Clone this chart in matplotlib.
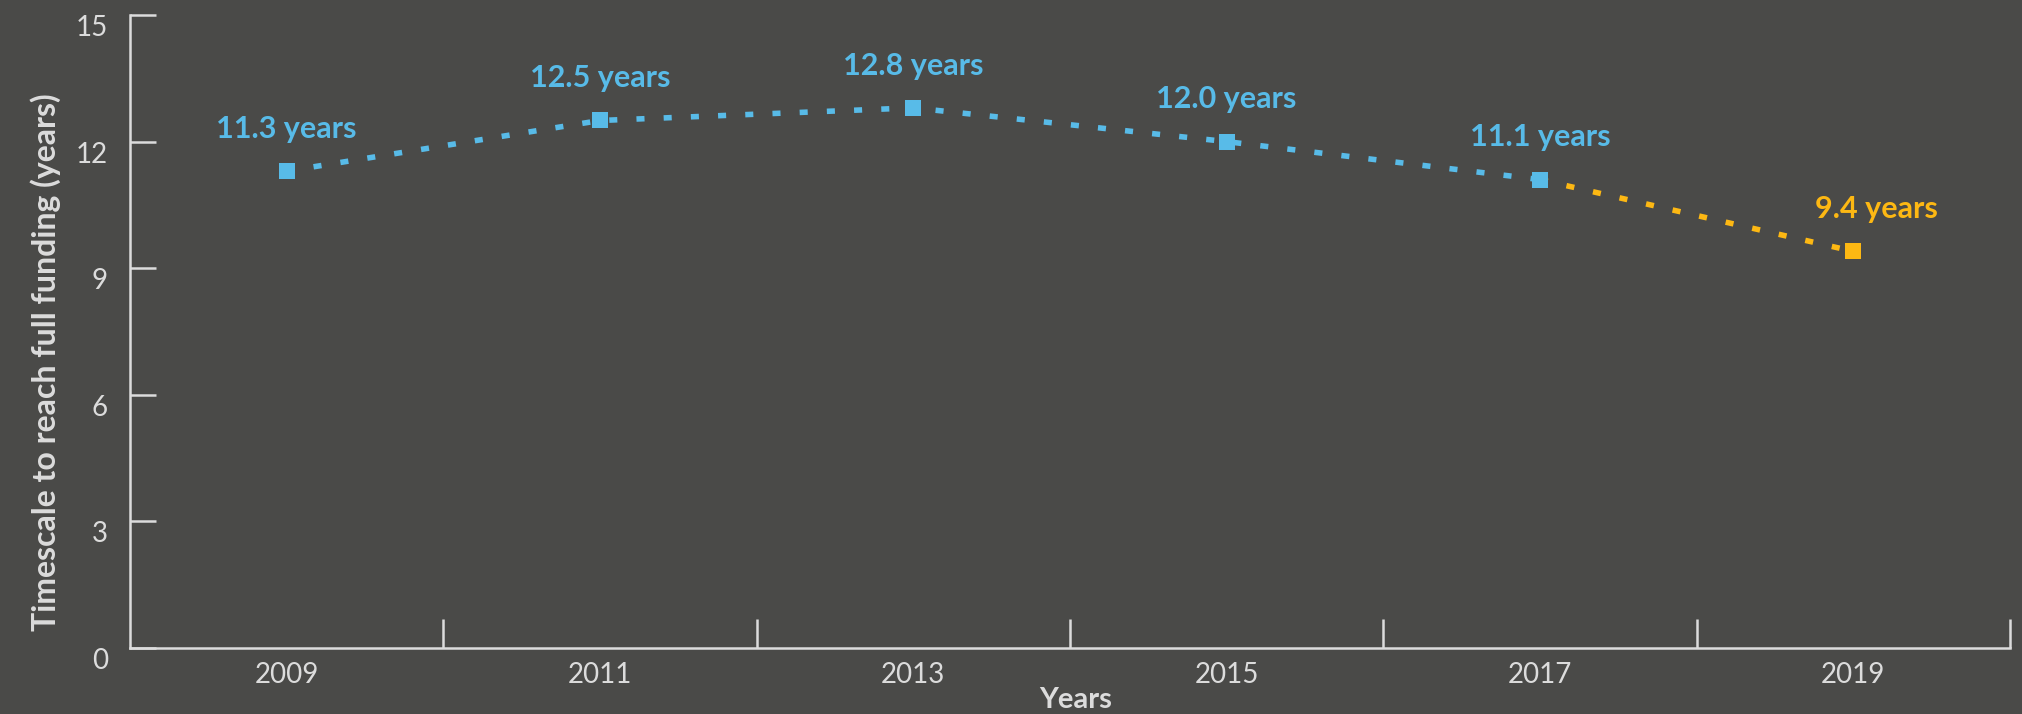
import matplotlib.pyplot as plt

# data
years = [2009, 2011, 2013, 2015, 2017, 2019]
timescale = [11.3, 12.5, 12.8, 12.0, 11.1, 9.4]
point_labels = ["11.3 years", "12.5 years", "12.8 years", "12.0 years", "11.1 years", "9.4 years"]
split = 4  # from 2017 onward the series is drawn in orange
y_ticks = [0, 3, 6, 9, 12, 15]
x_tick_marks = [2010, 2012, 2014, 2016, 2018, 2020]

bg = "#4a4a48"
fg = "#dcdcdc"
blue = "#58bbe8"
orange = "#fdb813"

plt.rcParams['font.family'] = ['Lato', 'DejaVu Sans']

fig = plt.figure(figsize=(20.22, 7.14), dpi=100, facecolor=bg)
ax = fig.add_axes([0.0643, 0.0924, 0.9297, 0.8866], facecolor=bg)

dash = (0, (1.45, 3.45))
ax.plot(years[:split + 1], timescale[:split + 1], color=blue, lw=4,
        linestyle=dash, dash_capstyle='butt', zorder=2)
ax.plot(years[split:], timescale[split:], color=orange, lw=4,
        linestyle=dash, dash_capstyle='butt', zorder=2)
ax.plot(years[:split + 1], timescale[:split + 1], 's', color=blue, ms=11.5, mew=0, zorder=3)
ax.plot(years[split + 1:], timescale[split + 1:], 's', color=orange, ms=11.5, mew=0, zorder=3)

for i, (x, y, txt) in enumerate(zip(years, timescale, point_labels)):
    c = blue if i <= split else orange
    dx = 17 if i == len(years) - 1 else 0
    ax.annotate(txt, (x, y), xytext=(dx, 24), textcoords='offset points',
                ha='center', va='baseline', fontsize=22, fontweight='bold', color=c)

ax.set_xlim(2008, 2020)
ax.set_ylim(0, 15)

ax.set_yticks(y_ticks)
ax.set_yticklabels([str(v) for v in y_ticks])
ax.set_xticks(x_tick_marks)
ax.set_xticklabels([])
ax.set_xticks(years, minor=True)
ax.set_xticklabels([str(v) for v in years], minor=True)

ax.tick_params(axis='y', direction='in', length=19, width=1.8, color=fg,
               labelcolor=fg, labelsize=20, pad=16)
ax.tick_params(axis='x', which='major', direction='in', length=21, width=1.8, color=fg)
ax.tick_params(axis='x', which='minor', length=0, labelcolor=fg, labelsize=20, pad=10)
for lab in ax.get_yticklabels():
    lab.set_va('top')

for s in ['top', 'right']:
    ax.spines[s].set_visible(False)
for s in ['left', 'bottom']:
    ax.spines[s].set_color(fg)
    ax.spines[s].set_linewidth(1.8)

ax.set_ylabel("Timescale to reach full funding (years)", fontsize=23, fontweight='bold', color=fg)
ax.yaxis.set_label_coords(-0.045, 0.452)
ax.set_xlabel("Years", fontsize=21, fontweight='bold', color=fg)
ax.xaxis.set_label_coords(0.503, -0.082)
ax.xaxis.label.set_va('center')
ax.yaxis.label.set_va('center')

fig.savefig("out.png", dpi=100, facecolor=bg)
